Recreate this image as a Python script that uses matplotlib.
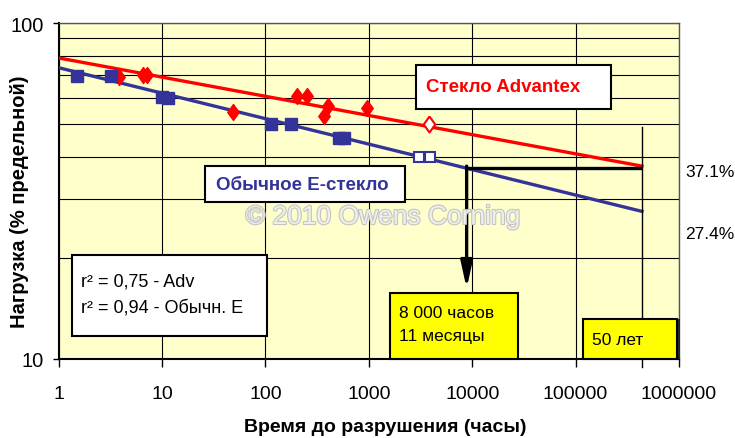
import numpy as np
import matplotlib
matplotlib.use("Agg")
import matplotlib.pyplot as plt
import matplotlib.ticker as mticker
from matplotlib.patches import Rectangle
import matplotlib.patheffects as pe

plt.rcParams['font.family'] = ['Liberation Sans', 'DejaVu Sans']

########## data ##########
# Advantex glass (red diamonds)
adv_hours = [3.8, 6.5, 7.2, 49, 200, 250, 370, 400, 960]
adv_load = [69.2, 70.2, 70.2, 54.2, 60.5, 60.8, 53.0, 56.7, 55.7]
adv_open_hours = [3840]
adv_open_load = [50.0]
# ordinary E-glass (blue squares)
e_hours = [1.5, 3.2, 10.0, 11.4, 114, 175, 520, 580]
e_load = [69.7, 69.7, 60.4, 59.8, 50.0, 50.0, 45.5, 45.5]
e_open_hours = [3085, 3945]
e_open_load = [40.0, 40.0]
# regression lines
fit_hours = [1, 438000]
adv_fit = [78.7, 37.5]
e_fit = [73.6, 27.5]

fifty_years = 438000
level_adv = 37.1
level_e = 27.4
e_cross_hours = 8830
arrow_tip = 16.2
vline_top = 48.9

x_ticks = [1, 10, 100, 1000, 10000, 100000, 1000000]
x_labels = ['1', '10', '100', '1000', '10000', '100000', '1000000']

RED = '#ff0000'
BLUE = '#333399'
W, H = 735, 439

def fx(px):
    return px / W

def fy(py):
    return 1 - py / H

fig = plt.figure(figsize=(7.35, 4.39), dpi=100)
ax = fig.add_axes([fx(58.7), fy(360), fx(679 - 58.7), (360 - 24) / H])
ax.set_facecolor('#ffffcc')
ax.set_xscale('log')
ax.set_yscale('log')
ax.set_xlim(1, 1e6)
ax.set_ylim(10, 100)

# grid
ax.set_xticks(x_ticks, x_labels)
ax.xaxis.set_minor_locator(mticker.NullLocator())
ax.set_yticks([10, 100], ['10', '100'])
ax.yaxis.set_minor_locator(mticker.FixedLocator(np.arange(20, 100, 10)))
ax.yaxis.set_minor_formatter(mticker.NullFormatter())
ax.grid(which='major', axis='x', color='black', lw=0.8)
ax.grid(which='both', axis='y', color='black', lw=0.8)
ax.set_axisbelow(True)
ax.tick_params(axis='x', which='major', direction='out', length=6, width=1, pad=13,
               labelsize=14)
ax.tick_params(axis='y', which='major', direction='out', length=4, width=1, pad=7,
               labelsize=14.5)
ax.tick_params(axis='y', which='minor', length=0)
for s in ['left', 'bottom']:
    ax.spines[s].set_linewidth(1.5)
for s in ['top', 'right']:
    ax.spines[s].set_linewidth(1)
    ax.spines[s].set_color('#555555')

# fit lines
ax.plot(fit_hours, adv_fit, color=RED, lw=2.4, zorder=3)
ax.plot(fit_hours, e_fit, color=BLUE, lw=2.4, zorder=3)

diamond = [(0, 1), (0.72, 0), (0, -1), (-0.72, 0), (0, 1)]
ax.plot(adv_hours, adv_load, ls='none', marker=diamond, ms=11.5, color=RED, zorder=4)
ax.plot(adv_open_hours, adv_open_load, ls='none', marker=diamond, ms=11.5,
        mfc='white', mec=RED, mew=1.5, zorder=4)
ax.plot(e_hours, e_load, ls='none', marker='s', ms=8, color=BLUE, zorder=5)
ax.plot(e_open_hours, e_open_load, ls='none', marker='s', ms=7.5,
        mfc='white', mec=BLUE, mew=1.5, zorder=5)

# annotation lines
ax.plot([e_cross_hours, fifty_years], [level_adv, level_adv], color='black', lw=2.4,
        zorder=3, solid_capstyle='butt')
ax.annotate('', xy=(e_cross_hours, arrow_tip), xytext=(e_cross_hours, level_adv + 0.4),
            arrowprops=dict(arrowstyle='-|>,head_length=1.6,head_width=0.35',
                            mutation_scale=10, lw=2.4, color='black',
                            shrinkA=0, shrinkB=0), zorder=3)
ax.axvline(fifty_years, ymin=-8 / 336, ymax=np.log10(vline_top / 10), color='black',
           lw=1, clip_on=False, zorder=3)

# watermark
fig.text(fx(383), fy(218), '© 2010 Owens Corning', ha='center', va='center',
         fontsize=19, color='#eeeeea',
         path_effects=[pe.withStroke(linewidth=1.6, foreground='#c4c4c4')], zorder=6)

def box(x0, y0, x1, y1, face, lw=1.5, shadow=False):
    if shadow:
        fig.patches.append(Rectangle((fx(x0 + 3), fy(y1)), fx(x1 - x0), (y1 - y0) / H,
                                     transform=fig.transFigure, facecolor='#222222',
                                     edgecolor='none', zorder=1))
    fig.patches.append(Rectangle((fx(x0), fy(y1)), fx(x1 - x0), (y1 - y0) / H,
                                 transform=fig.transFigure, facecolor=face,
                                 edgecolor='black', lw=lw, zorder=2))

box(416, 66, 611, 110, 'white')
fig.text(fx(426), fy(88), 'Стекло Advantex', color=RED, fontsize=13.5,
         fontweight='bold', va='center')

box(205, 167, 405, 203, 'white')
fig.text(fx(216), fy(186), 'Обычное E-стекло', color=BLUE, fontsize=13.5,
         fontweight='bold', va='center')

box(72, 256, 267, 337, 'white')
fig.text(fx(81), fy(282), 'r² = 0,75 - Adv', fontsize=13, va='center')
fig.text(fx(81), fy(308), 'r² = 0,94 - Обычн. E', fontsize=13, va='center')

box(390, 294, 518, 360, '#ffff00')
fig.text(fx(399), fy(314), '8 000 часов', fontsize=12.5, va='center')
fig.text(fx(399), fy(337), '11 месяцы', fontsize=12.5, va='center')

box(583, 320, 677, 360, '#ffff00', shadow=True)
fig.text(fx(592), fy(341), '50 лет', fontsize=12.5, va='center')

for val, py in [(level_adv, 173), (level_e, 235)]:
    fig.text(fx(685), fy(py), f'{val}%', fontsize=12.5, va='center')

fig.text(fx(385), fy(428), 'Время до разрушения (часы)', ha='center', va='center',
         fontsize=14, fontweight='bold')
fig.text(fx(20), fy(202), 'Нагрузка (% предельной)', ha='center', va='center',
         rotation=90, fontsize=14.5, fontweight='bold')

fig.savefig('out.png', dpi=100)
